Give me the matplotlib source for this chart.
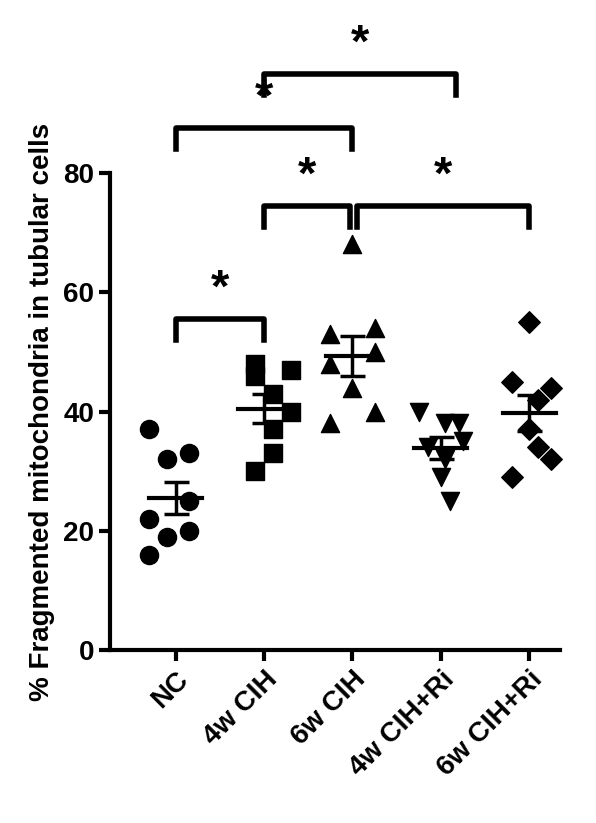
import numpy as np
import matplotlib
matplotlib.use("Agg")
import matplotlib.pyplot as plt

groups = ["NC", "4w CIH", "6w CIH", "4w CIH+Ri", "6w CIH+Ri"]
markers = ["o", "s", "^", "v", "D"]
nc = [37, 33, 32, 25, 22, 20, 19, 16]
w4 = [48, 47, 46, 43, 40, 37, 33, 30]
w6 = [68, 54, 53, 50, 48, 44, 40, 38]
w4ri = [40, 38, 38, 35, 34, 32, 29, 25]
w6ri = [55, 45, 44, 42, 37, 34, 32, 29]
data = [nc, w4, w6, w4ri, w6ri]
# x jitter offsets (style only)
jit = [[-0.3, 0.15, -0.1, 0.15, -0.3, 0.15, -0.1, -0.3],
       [-0.1, 0.3, -0.1, 0.1, 0.3, 0.1, 0.1, -0.1],
       [0.0, 0.25, -0.25, 0.25, -0.25, 0.0, 0.25, -0.25],
       [-0.25, 0.2, 0.05, 0.25, -0.15, 0.05, 0.0, 0.1],
       [0.0, -0.2, 0.25, 0.1, 0.0, 0.1, 0.25, -0.2]]
# significance brackets: (start, end, value)
brackets = [(0, 1, 55.5), (1, 1.97, 74.5), (2.05, 4, 74.5), (0, 2, 87.5), (1, 3.17, 96.5)]

plt.rcParams["font.family"] = "Liberation Sans"
plt.rcParams["font.weight"] = "bold"
fig = plt.figure(figsize=(5.96, 8.23), dpi=100)
ax = fig.add_axes([0.185, 0.21, 0.755, 0.58])
x = np.arange(len(groups))
for i, (vals, m) in enumerate(zip(data, markers)):
    v = np.array(vals)
    ax.scatter(x[i] + np.array(jit[i]), v, marker=m, s=170 if m != "D" else 120,
               color="black", zorder=3, clip_on=False)
    mean = v.mean()
    sem = v.std(ddof=1) / np.sqrt(len(v))
    ax.plot([x[i] - 0.3, x[i] + 0.3], [mean, mean], color="black", lw=3, zorder=4)
    ax.errorbar(x[i], mean, yerr=sem, color="black", lw=2.5, capsize=9,
                capthick=2.5, zorder=4)

for a, b, y in brackets:
    ax.plot([a, a, b, b], [y - 3.5, y, y, y - 3.5], color="black",
            lw=4, clip_on=False, solid_joinstyle="round")
    ax.text((a + b) / 2, y + 1.2, "*", ha="center", va="bottom",
            fontsize=34, fontweight="bold")

ax.set_xlim(-0.74, 4.35)
ax.set_ylim(0, 80)
ax.set_yticks([0, 20, 40, 60, 80])
ax.set_xticks(x)
ax.set_xticklabels(groups, rotation=45, ha="right", rotation_mode="anchor",
                   fontsize=20, fontweight="bold")
ax.tick_params(axis="y", labelsize=20, width=3, length=8)
ax.tick_params(axis="x", width=3, length=8)
for s in ["top", "right"]:
    ax.spines[s].set_visible(False)
for s in ["left", "bottom"]:
    ax.spines[s].set_linewidth(3)
ax.set_ylabel("% Fragmented mitochondria in tubular cells", fontsize=20,
              fontweight="bold", labelpad=6)
fig.savefig("out.png", dpi=100)
